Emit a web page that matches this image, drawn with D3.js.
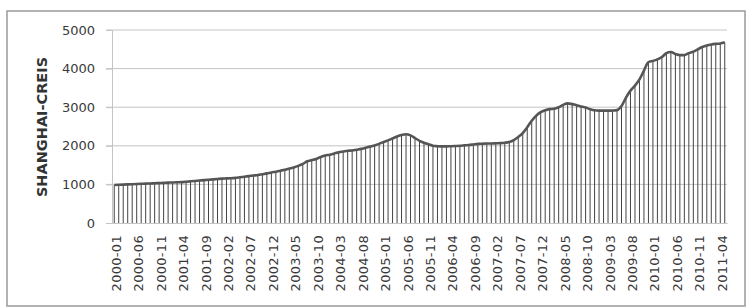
<!DOCTYPE html>
<html><head><meta charset="utf-8">
<script src="https://cdn.jsdelivr.net/npm/d3@7"></script>
<style>html,body{margin:0;padding:0;background:#fff;}svg{display:block;}</style>
</head><body>
<script>
const startYear = 2000, startMonth = 1;
const values = [
 985, 990, 995, 1000, 1005, 1010, 1015, 1020, 1025, 1030, 1035, 1040, 1045,
 1050, 1055, 1060, 1070, 1080, 1090, 1100, 1110,
 1120, 1130, 1140, 1150, 1155, 1160, 1170, 1185,
 1200, 1215, 1230, 1245, 1265, 1285, 1310,
 1330, 1355, 1380, 1410, 1440, 1480, 1530,
 1600, 1630, 1660, 1710, 1750,
 1770, 1800, 1830, 1850, 1870, 1880,
 1900, 1920, 1950, 1980, 2010, 2050,
 2100, 2140, 2190, 2240, 2280, 2300,
 2270, 2200, 2130, 2080, 2040, 2000,
 1990, 1985, 1985, 1990, 1995, 2000,
 2010, 2020, 2035, 2050, 2055, 2060,
 2060, 2065, 2070, 2080, 2100, 2150,
 2230, 2330, 2480, 2650, 2780, 2870,
 2920, 2950, 2960, 3000, 3060, 3100,
 3080, 3050, 3020, 2990, 2950, 2920,
 2910, 2910, 2910, 2915, 2925, 3030,
 3250, 3430, 3560, 3720, 3950, 4170,
 4200, 4240, 4300, 4400, 4430, 4380,
 4350, 4350, 4400, 4440, 4500, 4560,
 4600, 4625, 4640, 4650, 4680
];
const categories = values.map((v, i) => {
  const m = startMonth - 1 + i;
  const y = startYear + Math.floor(m / 12);
  const mm = (m % 12) + 1;
  return y + "-" + (mm < 10 ? "0" + mm : "" + mm);
});
const yTicks = [0, 1000, 2000, 3000, 4000, 5000];
const yTitle = "SHANGHAI-CREIS";
const labelEvery = 5;

const W = 748, H = 308;
const m = {left: 112, right: 21, top: 30, bottom: 85};
const svg = d3.select("body").append("svg").attr("width", W).attr("height", H);

svg.append("rect").attr("x", 7).attr("y", 11).attr("width", 738).attr("height", 295)
  .attr("fill", "#fff").attr("stroke", "#9a9a9a").attr("stroke-width", 1.5);

const x = d3.scaleBand().domain(categories).range([m.left, W - m.right]);
const y = d3.scaleLinear().domain([0, 5000]).range([H - m.bottom, m.top]);
const cx = d => x(d) + x.bandwidth() / 2;

// gridlines
svg.append("g").selectAll("line").data(yTicks.filter(t => t > 0)).join("line")
  .attr("x1", m.left - 6).attr("x2", W - m.right)
  .attr("y1", d => y(d)).attr("y2", d => y(d))
  .attr("stroke", "#c4c4c4").attr("stroke-width", 1);

// value axis
const yAxis = svg.append("g").attr("transform", `translate(${m.left},0)`)
  .call(d3.axisLeft(y).tickValues(yTicks).tickFormat(d3.format("d")).tickSize(6).tickPadding(11));
yAxis.select(".domain").attr("stroke", "#c4c4c4");
yAxis.selectAll(".tick line").attr("stroke", "#c4c4c4");
yAxis.selectAll("text").attr("font-family", "DejaVu Sans").attr("font-size", 13).attr("fill", "#3a3a3a");

// drop lines
svg.append("g").selectAll("line").data(values).join("line")
  .attr("x1", (d, i) => cx(categories[i])).attr("x2", (d, i) => cx(categories[i]))
  .attr("y1", d => y(d)).attr("y2", y(0))
  .attr("stroke", "#444").attr("stroke-width", 1);

// category axis
const xAxis = svg.append("g").attr("transform", `translate(0,${y(0)})`)
  .call(d3.axisBottom(x).tickValues(categories.filter((c, i) => i % labelEvery === 0)).tickSize(0));
xAxis.select(".domain").attr("stroke", "#c4c4c4");
xAxis.selectAll("text")
  .attr("font-family", "DejaVu Sans").attr("font-size", 13).attr("fill", "#3a3a3a")
  .attr("letter-spacing", 0.3)
  .attr("text-anchor", "end")
  .attr("transform", "rotate(-90)")
  .attr("x", -12).attr("y", 0).attr("dy", "0.5em");

// line
svg.append("path").datum(values)
  .attr("d", d3.line().x((d, i) => cx(categories[i])).y(d => y(d)).curve(d3.curveMonotoneX))
  .attr("fill", "none").attr("stroke", "#555").attr("stroke-width", 2.6)
  .attr("stroke-linejoin", "round");

// y title
svg.append("text").attr("transform", "translate(47,127) rotate(-90)")
  .attr("text-anchor", "middle").attr("font-family", "DejaVu Sans").attr("font-weight", "bold")
  .attr("font-size", 14.5).attr("fill", "#333").text(yTitle);
</script>
</body></html>
